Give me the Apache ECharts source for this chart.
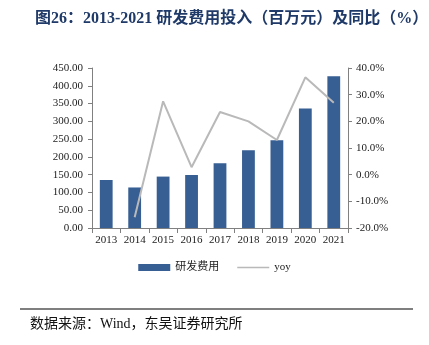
<!DOCTYPE html>
<html><head><meta charset="utf-8">
<script src="https://cdn.jsdelivr.net/npm/echarts@6/dist/echarts.min.js"></script>
<style>html,body{margin:0;padding:0;background:#fff}#c{width:429px;height:345px}</style>
</head><body><div id="c"></div>
<script>
var categories = ['2013','2014','2015','2016','2017','2018','2019','2020','2021'];
var rdExpense = [135, 114, 144.6, 149, 182, 219, 247, 336, 427];
var yoy = [null, -16.0, 27.5, 2.8, 23.5, 20.0, 13.0, 36.5, 27.0];
var leftTicks = {min: 0, max: 450, interval: 50};
var rightTicks = {min: -20, max: 40, interval: 10};

var serif = '"Liberation Serif","Times New Roman","Noto Sans CJK SC",serif';
var chart = echarts.init(document.getElementById('c'));
chart.setOption({
  backgroundColor: '#fff',
  animation: false,
  title: {
    text: '图26：2013-2021 研发费用投入（百万元）及同比（%）',
    left: 30, top: 6,
    textStyle: {fontFamily: serif, fontSize: 16, fontWeight: 'bold', color: '#1f3a68'}
  },
  grid: {left: 92, right: 81, top: 68, bottom: 117},
  legend: {
    bottom: 67, left: 'center',
    itemWidth: 32, itemHeight: 7, itemGap: 18,
    textStyle: {fontFamily: serif, fontSize: 11, color: '#222'},
    data: [{name: '研发费用', icon: 'rect'},
           {name: 'yoy', icon: 'path://M0,0 L64,0 L64,3 L0,3 Z', itemStyle: {color: '#b9b9b9'}}]
  },
  xAxis: {
    type: 'category', data: categories,
    axisLine: {lineStyle: {color: '#808080'}},
    axisTick: {show: true, lineStyle: {color: '#808080'}},
    axisLabel: {fontFamily: serif, fontSize: 11, color: '#222', margin: 7, interval: 0}
  },
  yAxis: [{
    type: 'value', min: leftTicks.min, max: leftTicks.max, interval: leftTicks.interval,
    splitLine: {show: false},
    axisLine: {show: true, lineStyle: {color: '#808080'}},
    axisTick: {show: true, length: 4, lineStyle: {color: '#808080'}},
    axisLabel: {fontFamily: serif, fontSize: 11, color: '#222', margin: 9,
      formatter: function (v) { return v.toFixed(2); }}
  }, {
    type: 'value', min: rightTicks.min, max: rightTicks.max, interval: rightTicks.interval,
    splitLine: {show: false},
    axisLine: {show: true, lineStyle: {color: '#808080'}},
    axisTick: {show: true, length: 4, lineStyle: {color: '#808080'}},
    axisLabel: {fontFamily: serif, fontSize: 11, color: '#222', margin: 8,
      formatter: function (v) { return v.toFixed(1) + '%'; }}
  }],
  series: [{
    name: '研发费用', type: 'bar', data: rdExpense, barWidth: '45%',
    itemStyle: {color: '#375f93'}
  }, {
    name: 'yoy', type: 'line', yAxisIndex: 1, data: yoy,
    symbol: 'none', showSymbol: false,
    lineStyle: {color: '#b9b9b9', width: 2},
    itemStyle: {color: '#b9b9b9'}
  }],
  graphic: [{
    type: 'line', shape: {x1: 20, y1: 309, x2: 413, y2: 309},
    style: {stroke: '#000', lineWidth: 1.2}
  }, {
    type: 'text', left: 30, top: 317,
    style: {text: '数据来源：Wind，东吴证券研究所', font: '14px ' + serif, fill: '#111'}
  }]
});
</script></body></html>
